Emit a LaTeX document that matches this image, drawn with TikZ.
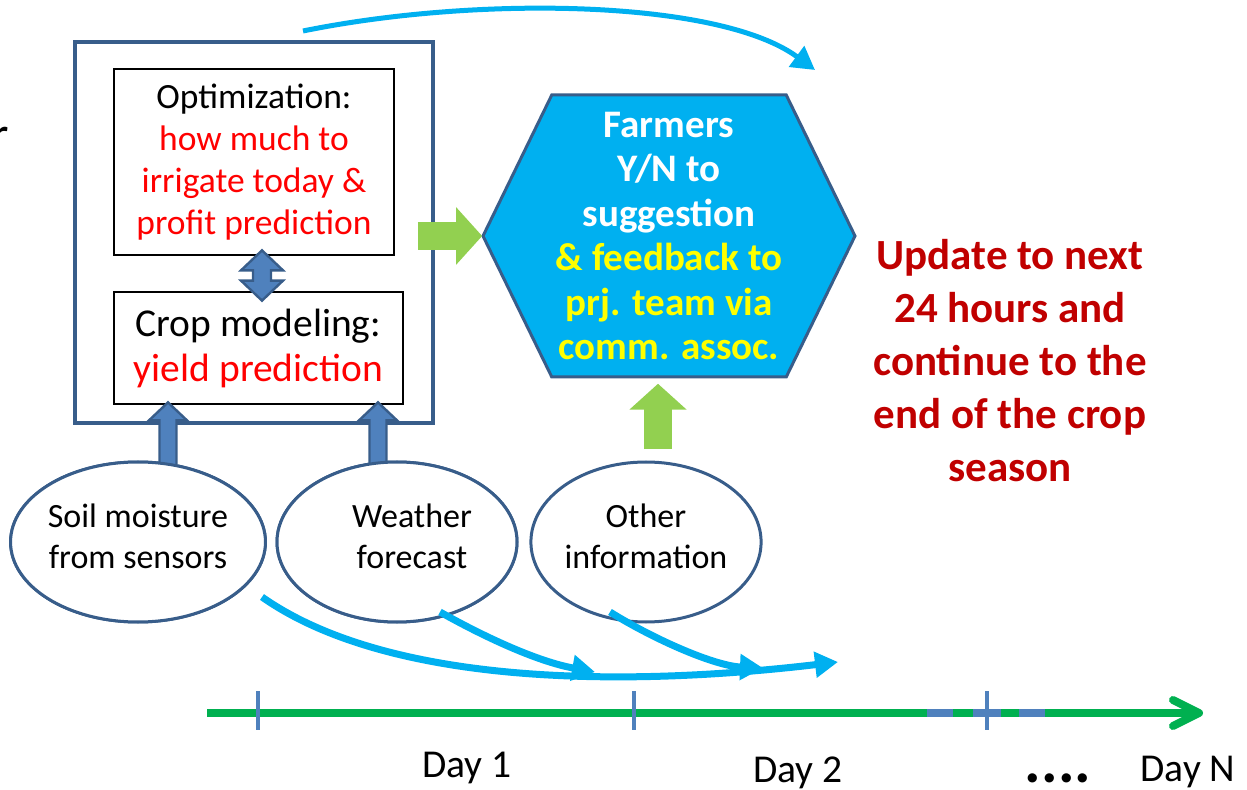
\documentclass[tikz,border=0pt]{standalone}
\usepackage{fontspec}
\setmainfont{Carlito}
\usetikzlibrary{arrows.meta,positioning,calc,shapes.geometric,shapes.symbols}

\definecolor{frameblue}{HTML}{385D8A}
\definecolor{arrowblue}{HTML}{4F81BD}
\definecolor{skyblue}{HTML}{00B0F0}
\definecolor{leafgreen}{HTML}{92D050}
\definecolor{timegreen}{HTML}{00B050}
\definecolor{hotred}{HTML}{FF0000}
\definecolor{darkred}{HTML}{C00000}
\definecolor{hexyellow}{HTML}{FFFF00}

\begin{document}
\begin{tikzpicture}[
      x=1pt,y=-1pt,
      scale=0.5, transform shape,
      >={Triangle[length=11.5pt,width=12.5pt]},
      panel/.style={draw=black,line width=0.75pt,fill=white,inner sep=0,align=center},
      source/.style={draw=frameblue,line width=1.5pt,fill=white,ellipse,minimum height=160,
        inner sep=0,text depth=11pt,align=center,font=\fontsize{34}{41}\selectfont},
      flow/.style={draw=skyblue,line width=3.5pt,->},
      liftarrow/.style={draw=frameblue,line width=1.2pt,fill=arrowblue},
      feed/.style={draw=leafgreen,line width=14pt,-{Triangle[length=13pt,width=28pt]}},
      daylabel/.style={font=\fontsize{39.5}{45}\selectfont,inner sep=0}
    ]
    \useasboundingbox (0,0) rectangle (1247,790);

    \node[font=\fontsize{50}{60}\selectfont,anchor=base east,inner sep=0] (cut) at (9,152) {r};

    % model frame and its two panels
    \node[draw=frameblue,line width=1.6pt,minimum width=358,minimum height=381] (model) at (254,232.5) {};
    \node[panel,minimum width=280,minimum height=186,font=\fontsize{35.5}{42}\selectfont] (opt) at (254,162)
      {Optimization:\\\color{hotred}how much to\\\color{hotred}irrigate today \&\\\color{hotred}profit prediction};
    \node[panel,minimum width=289,minimum height=112,font=\fontsize{39.5}{45}\selectfont] (crop) at (258.5,348)
      {Crop modeling:\\\color{hotred}yield prediction};

    % inputs
    \node[source,minimum width=246] (soil) at (138,542) {Soil moisture\\from sensors};
    \node[source,minimum width=240] (weather) at (397,542) {\hspace*{30pt}Weather\\\hspace*{30pt}forecast};
    \node[source,minimum width=226] (other) at (646,542) {Other\\information};

    \node[signal,signal to=west and east,signal pointer angle=128,draw=frameblue,line width=1.5pt,
      fill=skyblue,minimum width=372,minimum height=282,inner sep=0,align=center,text=white,
      font=\bfseries\fontsize{39}{44.5}\selectfont] (farm) at (669,236)
      {Farmers\\Y/N to\\suggestion\\\color{hexyellow}\& feedback to\\\color{hexyellow}prj. team via\\\color{hexyellow}comm. assoc.};

    \node[font=\bfseries\fontsize{43}{53}\selectfont,text=darkred,align=center,inner sep=0] (update) at (1010,361)
      {Update to next\\24 hours and\\continue to the\\end of the crop\\season};

    % block arrows
    \coordinate (la) at ($(opt.south)+(8,-5)$);
    \coordinate (lb) at ($(crop.north)+(3.5,9)$);
    \draw[liftarrow] (la) -- ($(la)+(21,20)$) -- ($(la)+(9,20)$) -- ($(lb)+(9,-20)$) -- ($(lb)+(21,-20)$)
      -- (lb) -- ($(lb)+(-21,-20)$) -- ($(lb)+(-9,-20)$) -- ($(la)+(-9,20)$) -- ($(la)+(-21,20)$) -- cycle;

    \coordinate (sa) at ($(soil.north)+(30,3)$);
    \coordinate (sb) at ($(sa |- crop.south)+(0,-2)$);
    \coordinate (wa) at ($(weather.north)+(-19,3)$);
    \coordinate (wb) at ($(wa |- crop.south)+(0,-2)$);
    \foreach \f/\t in {sa/sb,wa/wb}
      \draw[liftarrow] ($(\f)+(-8.5,0)$) -- ($(\t)+(-8.5,18)$) -- ($(\t)+(-19,18)$) -- (\t)
        -- ($(\t)+(19,18)$) -- ($(\t)+(8.5,18)$) -- ($(\f)+(8.5,0)$);
    % redraw ellipse tops over the shafts
    \node[source,minimum width=246] at (soil) {Soil moisture\\from sensors};
    \node[source,minimum width=240] at (weather) {\hspace*{30pt}Weather\\\hspace*{30pt}forecast};

    \draw[feed] ($(model.east |- farm.west)+(-16,0)$) -- (farm.west);
    \draw[feed] ($(other.north)+(12,-12)$) -- ($(farm.south)+(-11,6)$);

    % day to day
    \coordinate (loopout) at (303,31);
    \coordinate (loopin) at (815,70);
    \coordinate (soilout) at (262,597);
    \coordinate (weatherout) at (440,612);
    \coordinate (otherout) at (610,612);
    \coordinate (weatherin) at (595,672);
    \coordinate (otherin) at (763,668);
    \coordinate (dayend) at (838,662);
    \draw[flow,line width=2.5pt] (loopout) .. controls (480,-5) and (720,0) .. (loopin);
    \draw[flow] (soilout) .. controls (380,680) and (600,690) .. (dayend);
    \draw[flow] (weatherout) .. controls (490,640) and (540,662) .. (weatherin);
    \draw[flow] (otherout) .. controls (655,640) and (715,666) .. (otherin);

    % time line
    \coordinate (t0) at (207,713);
    \coordinate (tN) at (1203,713);
    \draw[draw=timegreen,line width=4pt,-{Straight Barb[length=13pt,width=13pt,round]}] (t0) -- (tN);
    \foreach \a/\b in {927/953,973/1001,1019/1045}
      \draw[arrowblue,line width=4pt] (\a,713) -- (\b,713);
    \foreach \x in {258,634,987}
      \draw[arrowblue,line width=2pt] (\x,691) -- (\x,730);

    \node[daylabel] (d1) at (467,768) {Day 1};
    \node[daylabel] (d2) at (798,773) {Day 2};
    \node[daylabel,font=\bfseries\fontsize{62}{64}\selectfont] (dots) at (1058,778) {....};
    \node[daylabel] (dN) at (1188,772) {Day N};
  \end{tikzpicture}
\end{document}
